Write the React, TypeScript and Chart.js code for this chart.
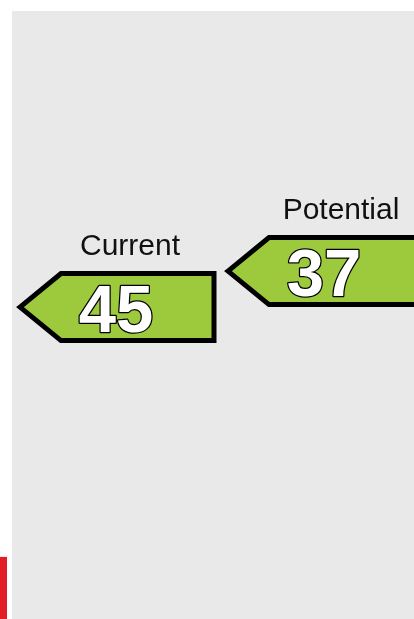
import { useEffect, useRef } from "react";
import { Chart, registerables } from "chart.js";

Chart.register(...registerables);

// ---- data ----
const categories = ["Current", "Potential"];
const ratings = [45, 37];
const ratingLabels = ["45", "37"];
const bandStarts = [100.5];
const bandColours = ["#e31d24"];

// ---- styles ----
const PANEL_BG = "#e9e9e9";
const ARROW_FILL = "#9dca3c";
const ARROW_STROKE = "#000000";

const arrowPlugin = {
  id: "epcArrows",
  beforeDraw(chart: any) {
    const { ctx, chartArea } = chart;
    const y = chart.scales.y;
    ctx.save();
    ctx.fillStyle = PANEL_BG;
    ctx.fillRect(chartArea.left, chartArea.top, chartArea.right - chartArea.left, chartArea.bottom - chartArea.top);
    bandStarts.forEach((v, i) => {
      const top = y.getPixelForValue(v);
      ctx.fillStyle = bandColours[i];
      ctx.fillRect(0, top, chartArea.left - 5, chartArea.bottom - top);
    });
    ctx.restore();
  },
  afterDatasetsDraw(chart: any) {
    const { ctx } = chart;
    const meta = chart.getDatasetMeta(0);
    ctx.save();
    meta.data.forEach((pt: any, i: number) => {
      const cx = pt.x;
      const cy = pt.y;
      const halfH = 33.5;
      const left = cx - 96;
      const right = cx + 98;
      const head = cx - 55;
      ctx.beginPath();
      ctx.moveTo(left, cy);
      ctx.lineTo(head, cy - halfH);
      ctx.lineTo(right, cy - halfH);
      ctx.lineTo(right, cy + halfH);
      ctx.lineTo(head, cy + halfH);
      ctx.closePath();
      ctx.fillStyle = ARROW_FILL;
      ctx.fill();
      ctx.lineWidth = 5;
      ctx.lineJoin = "miter";
      ctx.strokeStyle = ARROW_STROKE;
      ctx.stroke();

      // value
      ctx.font = "bold 67px 'Liberation Sans', Arial, sans-serif";
      ctx.textAlign = "center";
      ctx.textBaseline = "alphabetic";
      ctx.lineWidth = 2.5;
      ctx.lineJoin = "round";
      ctx.strokeStyle = "#000000";
      ctx.strokeText(ratingLabels[i], cx, cy + 25);
      ctx.fillStyle = "#ffffff";
      ctx.fillText(ratingLabels[i], cx, cy + 25);

      // category label
      ctx.font = "30px 'Liberation Sans', Arial, sans-serif";
      ctx.fillStyle = "#111111";
      ctx.fillText(categories[i], cx + 14 + i * 3, cy - halfH - 2.5 - 16);
    });
    ctx.restore();
  },
};

export default function App() {
  const ref = useRef<HTMLCanvasElement | null>(null);
  useEffect(() => {
    if (!ref.current) return;
    const chart = new Chart(ref.current, {
      type: "line",
      data: {
        labels: categories,
        datasets: [
          {
            data: ratings,
            showLine: false,
            pointRadius: 0,
            pointHoverRadius: 0,
          },
        ],
      },
      options: {
        responsive: false,
        animation: false,
        devicePixelRatio: 1,
        layout: { padding: { left: 12, top: 11, right: 0, bottom: 0 } },
        scales: {
          x: { type: "category", offset: true, display: false },
          y: { type: "linear", min: -20.8, max: 114.3, reverse: true, display: false },
        },
        plugins: { legend: { display: false }, tooltip: { enabled: false } },
      },
      plugins: [arrowPlugin],
    });
    return () => chart.destroy();
  }, []);
  return (
    <div style={{ position: "fixed", left: 0, top: 0, width: 414, height: 619, overflow: "hidden", background: "#ffffff" }}>
      <canvas ref={ref} width={428} height={619} style={{ display: "block", width: 428, height: 619 }} />
    </div>
  );
}
